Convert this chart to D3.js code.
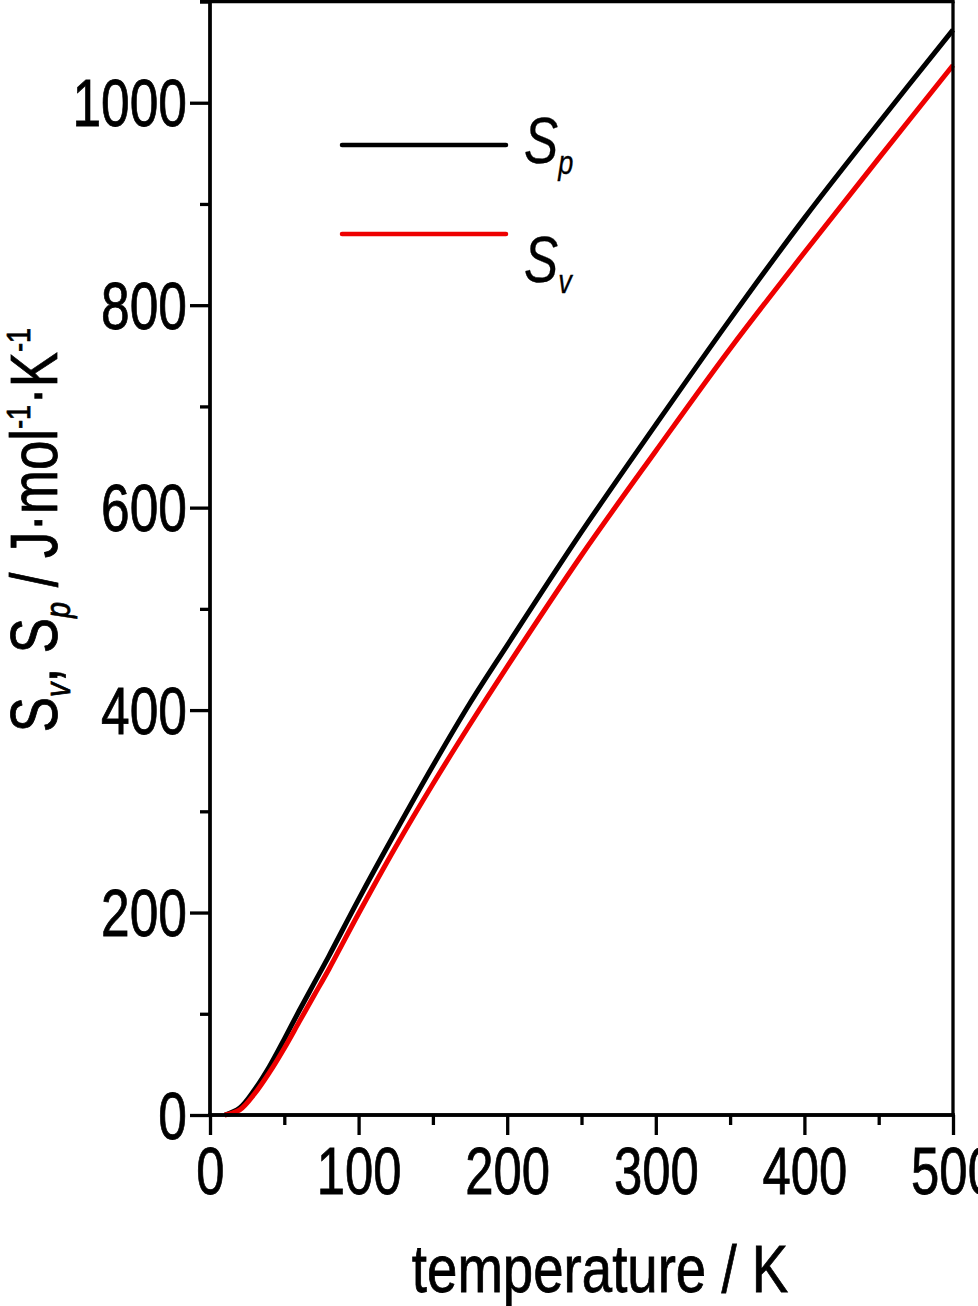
<!DOCTYPE html>
<html>
<head>
<meta charset="utf-8">
<script src="https://cdn.jsdelivr.net/npm/d3@7/dist/d3.min.js"></script>
<style>
  html, body { margin: 0; padding: 0; background: #fff; }
  svg { display: block; }
  text { font-family: "Liberation Sans", Arial, sans-serif; fill: #000; stroke: #000; stroke-width: 0.8px; }
</style>
</head>
<body>
<svg id="chart" width="978" height="1306"></svg>
<script>
// ---- data ----
const temperature = [10, 20, 30, 40, 50, 60, 70, 80, 100, 125, 150, 175, 200, 250, 300, 350, 400, 450, 500];
const Sp = [0, 7, 25, 48, 75, 103, 130, 157, 213, 280, 345, 407, 464, 576, 682, 786, 886, 980, 1072];
const Sv = [0, 5, 21, 42, 66, 92, 118, 144, 199, 265, 327, 386, 443, 553, 656, 757, 852, 945, 1037];
const xMajorTicks = [0, 100, 200, 300, 400, 500];
const xMinorTicks = [50, 150, 250, 350, 450];
const yMajorTicks = [0, 200, 400, 600, 800, 1000];
const yMinorTicks = [100, 300, 500, 700, 900, 1100];
const seriesNames = ["p", "v"];
const seriesColors = ["#000000", "#ee0000"];

const svg = d3.select("#chart");
const L = 210, R = 953, T = 1.5, B = 1115;
const x = d3.scaleLinear().domain([0, 500]).range([L, R]);
const y = d3.scaleLinear().domain([0, 1100]).range([B, T]);

const axisW = 3.3;
const fmt = d3.format("d");

// condense a text horizontally about its x anchor
function condense(sel, s) {
  sel.each(function () {
    const t = d3.select(this);
    const x0 = +t.attr("x") || 0;
    t.attr("transform", `translate(${x0},0) scale(${s},1) translate(${-x0},0)`);
  });
}

// curves
const line = d3.line().x(d => x(d[0])).y(d => y(d[1])).curve(d3.curveCatmullRom.alpha(0.5));
const seriesData = [Sp, Sv];
seriesData.forEach((vals, i) => {
  svg.append("path")
    .datum(temperature.map((t, j) => [t, vals[j]]))
    .attr("fill", "none")
    .attr("stroke", seriesColors[i])
    .attr("stroke-width", 5)
    .attr("stroke-linejoin", "round")
    .attr("d", line);
});

// frame top & right
svg.append("line").attr("x1", L - 10).attr("x2", R + axisW/2).attr("y1", T).attr("y2", T)
  .attr("stroke", "#000").attr("stroke-width", axisW);
svg.append("line").attr("x1", R).attr("x2", R).attr("y1", T).attr("y2", B)
  .attr("stroke", "#000").attr("stroke-width", axisW);

// x axis
const gx = svg.append("g").attr("transform", `translate(0,${B})`);
gx.call(d3.axisBottom(x).tickValues(xMajorTicks).tickFormat(fmt).tickSize(20).tickSizeOuter(0).tickPadding(12));
gx.append("g").call(d3.axisBottom(x).tickValues(xMinorTicks).tickSize(10).tickSizeOuter(0).tickFormat(""));
gx.selectAll("path.domain").attr("stroke-width", axisW).attr("d", `M${L - axisW/2},0H${R + axisW/2}`);
gx.selectAll(".tick line").attr("stroke-width", axisW);
gx.selectAll(".tick text").style("font-size", "66px").attr("fill", "#000").call(condense, 0.77);

// y axis
const gy = svg.append("g").attr("transform", `translate(${L},0)`);
gy.call(d3.axisLeft(y).tickValues(yMajorTicks).tickFormat(fmt).tickSize(20).tickSizeOuter(0).tickPadding(3));
gy.append("g").call(d3.axisLeft(y).tickValues(yMinorTicks).tickSize(10).tickSizeOuter(0).tickFormat(""));
gy.selectAll("path.domain").attr("stroke-width", axisW).attr("d", `M0,${T - axisW/2}V${B + axisW/2}`);
gy.selectAll(".tick line").attr("stroke-width", axisW);
gy.selectAll(".tick text").style("font-size", "66px").attr("fill", "#000").attr("dy", "0.35em").call(condense, 0.78);

// x axis title
svg.append("text").attr("x", 600).attr("y", 1292).attr("text-anchor", "middle")
  .style("font-size", "67px").text("temperature / K").call(condense, 0.815);

// y axis title
const yt = svg.append("text").attr("transform", "translate(57,530) rotate(-90) scale(0.8,1)")
  .attr("text-anchor", "middle").style("font-size", "66px");
yt.append("tspan").text("S");
yt.append("tspan").attr("dy", 13).style("font-size", "36px").style("font-style", "italic").text("v");
yt.append("tspan").attr("dy", -13).text(", S");
yt.append("tspan").attr("dy", 13).style("font-size", "36px").style("font-style", "italic").text("p");
yt.append("tspan").attr("dy", -13).text(" / J·mol");
yt.append("tspan").attr("dy", -27).style("font-size", "34px").text("-1");
yt.append("tspan").attr("dy", 27).text("·K");
yt.append("tspan").attr("dy", -27).style("font-size", "34px").text("-1");

// legend
const legY = [145, 234];
const legTextBase = [163, 282];
seriesNames.forEach((n, i) => {
  svg.append("line").attr("x1", 342).attr("x2", 506).attr("y1", legY[i]).attr("y2", legY[i])
    .attr("stroke", seriesColors[i]).attr("stroke-width", 4.5).attr("stroke-linecap", "round");
  const t = svg.append("text").attr("x", 524).attr("y", legTextBase[i]).style("font-size", "64px").style("font-style", "italic").style("stroke-width", "0.3px");
  t.append("tspan").text("S");
  t.append("tspan").attr("dy", 11).style("font-size", "34px").text(n);
  t.call(condense, 0.8);
});
</script>
</body>
</html>
